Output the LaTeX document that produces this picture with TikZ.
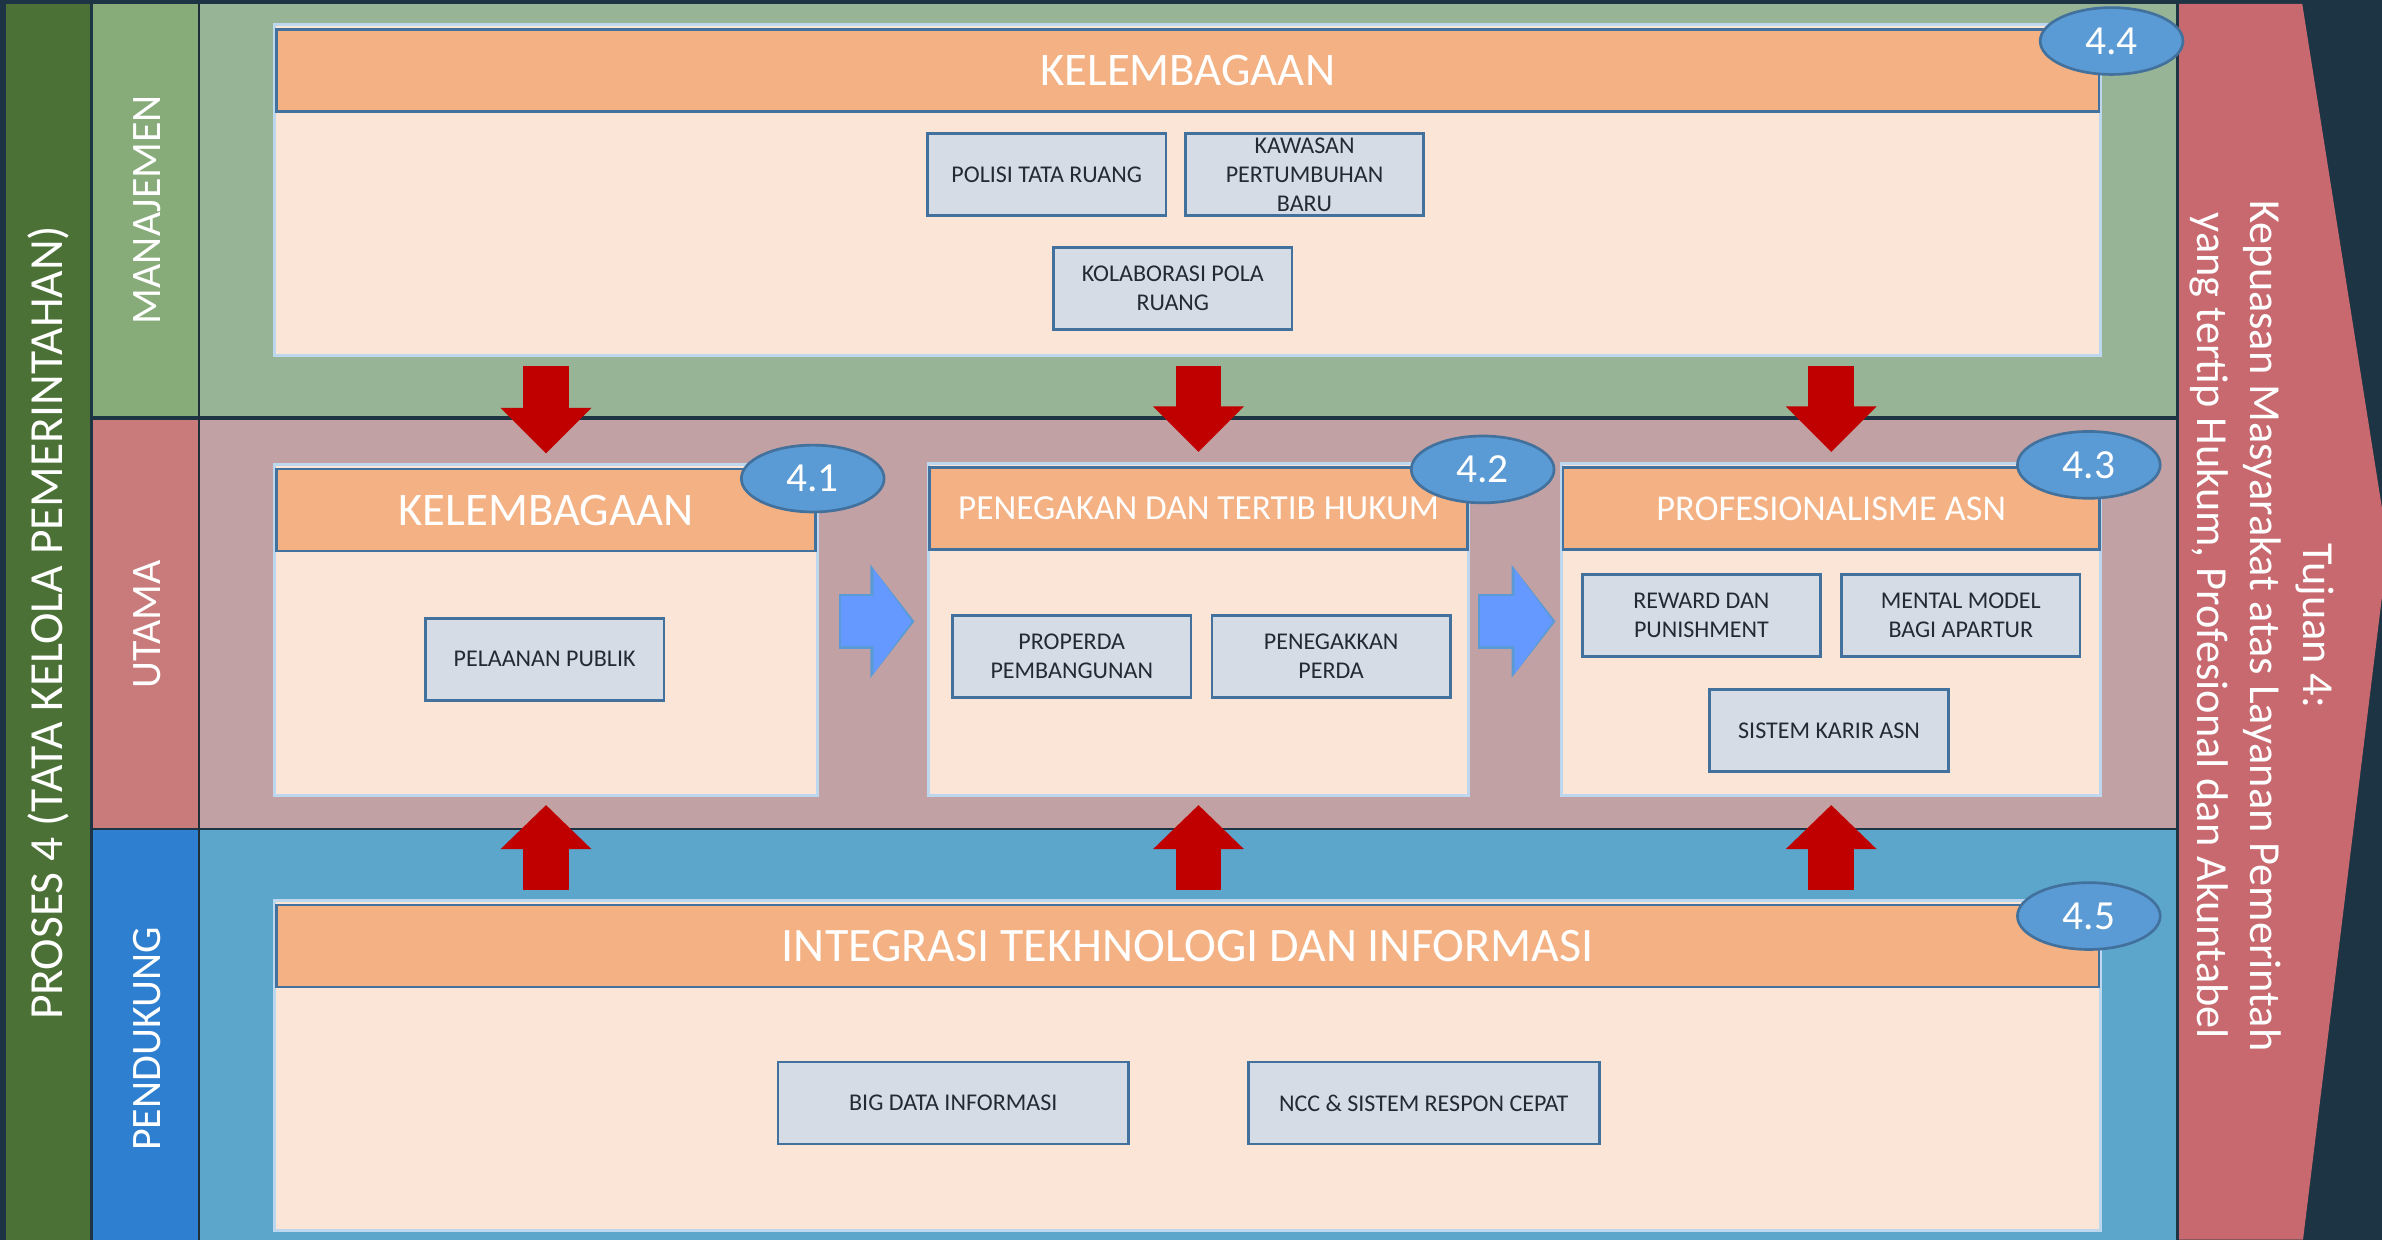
\documentclass[tikz,border=0pt]{standalone}
\usepackage{fontspec}
\setmainfont{Carlito}
\usetikzlibrary{positioning, arrows.meta, shapes.geometric}

\definecolor{bgdark}{HTML}{1D3444}
\definecolor{procol}{HTML}{4B7136}
\definecolor{manlab}{HTML}{88AB7A}
\definecolor{manbg}{HTML}{98B497}
\definecolor{utlab}{HTML}{C97A7B}
\definecolor{utbg}{HTML}{C1A1A3}
\definecolor{pdlab}{HTML}{2E7FD0}
\definecolor{pdbg}{HTML}{5BA6CA}
\definecolor{goalred}{HTML}{C8696F}
\definecolor{sepline}{HTML}{1F2F3A}
\definecolor{headfill}{HTML}{F4B183}
\definecolor{headdraw}{HTML}{41719C}
\definecolor{bodyfill}{HTML}{FBE5D6}
\definecolor{bodydraw}{HTML}{BDD7EE}
\definecolor{itemfill}{HTML}{D6DCE5}
\definecolor{itemtext}{HTML}{232A33}
\definecolor{tagfill}{HTML}{5B9BD5}
\definecolor{arrowred}{HTML}{C00000}
\definecolor{arrowblue}{HTML}{6699FF}
\definecolor{arrowrim}{HTML}{5B9BD5}

\begin{document}
\begin{tikzpicture}[x=0.02cm,y=-0.02cm,
    panel/.style={draw=bodydraw,line width=1.1pt,fill=bodyfill,inner sep=0pt,anchor=north west},
    head/.style={draw=headdraw,line width=0.9pt,fill=headfill,text=white,inner sep=0pt,minimum height=1.08cm,font=\fontsize{17.5}{21}\selectfont},
    subhead/.style={head,font=\fontsize{13.2}{16}\selectfont},
    item/.style={draw=headdraw,line width=1pt,fill=itemfill,text=itemtext,inner sep=0pt,minimum width=3.14cm,minimum height=1.08cm,align=center,font=\fontsize{9}{10.8}\selectfont},
    wideitem/.style={item,minimum width=4.62cm},
    tag/.style={ellipse,draw=headdraw,line width=1pt,fill=tagfill,text=white,inner sep=0pt,minimum width=1.88cm,minimum height=0.88cm,font=\fontsize{15.5}{16}\selectfont},
    side/.style={text=white,rotate=90,font=\fontsize{15.7}{19}\selectfont},
    downarr/.style={arrowred,line width=0.6cm,-{Triangle[width=1.16cm,length=0.6cm]},shorten <=0.12cm,shorten >=0.19cm},
    uparr/.style={arrowred,line width=0.6cm,-{Triangle[width=1.16cm,length=0.58cm]},shorten <=0.18cm,shorten >=0.1cm},
    rimarr/.style={arrowrim,line width=0.73cm,-{Triangle[width=1.46cm,length=0.58cm]}},
    rightarr/.style={arrowblue,line width=0.66cm,-{Triangle[width=1.36cm,length=0.5cm]}}]

\useasboundingbox (0,0) rectangle (1568,816);
\clip (0,0) rectangle (1568,816);

\fill[bgdark]  (0,0)       rectangle (1568,816);
\fill[procol]  (4,2.6)     rectangle (59,816);
\fill[manlab]  (61,2.6)    rectangle (131,274);
\fill[manbg]   (131,2.6)   rectangle (1432.5,274);
\fill[utlab]   (61,276.5)  rectangle (131,545);
\fill[utbg]    (131,276.5) rectangle (1432.5,545);
\fill[pdlab]   (61,546.5)  rectangle (131,816);
\fill[pdbg]    (131,546.5) rectangle (1432.5,816);
\draw[sepline,line width=0.6pt] (131,2.6) -- (131,816);
\fill[goalred] (1434.5,2.6) -- (1515.5,2.6) -- (1572,360) -- (1516,816) -- (1434.5,816) -- cycle;

\node[side,font=\fontsize{17.8}{20}\selectfont] (proses) at (32,410)  {PROSES 4 (TATA KELOLA PEMERINTAHAN)};
\node[side]                                     (man)    at (97,138)  {MANAJEMEN};
\node[side]                                     (uta)    at (97,411)  {UTAMA};
\node[side]                                     (pen)    at (97,684)  {PENDUKUNG};
\node[text=white,rotate=-90,align=center,font=\fontsize{16.6}{19.9}\selectfont] (goal) at (1489,412)
    {Tujuan 4:\\Kepuasan Masyarakat atas Layanan Pemerintah\\yang tertip Hukum, Profesional dan Akuntabel};

\node[panel,minimum width=24.04cm,minimum height=4.36cm] (b44) at (180,15)  {};
\node[head,minimum width=24cm]                          (h44) [below=0.07cm of b44.north] {KELEMBAGAAN};
\node[panel,minimum width=7.14cm,minimum height=4.36cm]  (b41) at (180,305) {};
\node[head,minimum width=7.1cm]                          (h41) [below=0.06cm of b41.north] {KELEMBAGAAN};
\node[panel,minimum width=7.12cm,minimum height=4.38cm]  (b42) at (610,304) {};
\node[subhead,minimum width=7.08cm]                      (h42) [below=0.06cm of b42.north] {PENEGAKAN DAN TERTIB HUKUM};
\node[panel,minimum width=7.1cm,minimum height=4.38cm]   (b43) at (1027,304) {};
\node[subhead,minimum width=7.06cm,font=\fontsize{13.6}{16}\selectfont] (h43) [below=0.06cm of b43.north] {PROFESIONALISME ASN};
\node[panel,minimum width=24.04cm,minimum height=4.34cm] (b45) at (180,592) {};
\node[head,minimum width=24cm,font=\fontsize{18}{21}\selectfont] (h45) [below=0.06cm of b45.north] {INTEGRASI TEKHNOLOGI DAN INFORMASI};

\node[item]     (polisi)     at (689,115)                      {POLISI TATA RUANG};
\node[item]     (kawasan)    [right=0.22cm of polisi]          {KAWASAN\\PERTUMBUHAN\\BARU};
\node[item]     (kolaborasi) at (772,190)                      {KOLABORASI POLA\\RUANG};
\node[item]     (pelayanan)  at (358.5,434)                    {PELAANAN PUBLIK};
\node[item]     (properda)   at (705.5,432)                    {PROPERDA\\PEMBANGUNAN};
\node[item]     (perda)      [right=0.24cm of properda]        {PENEGAKKAN\\PERDA};
\node[item]     (reward)     at (1120,405)                     {REWARD DAN\\PUNISHMENT};
\node[item]     (mental)     [right=0.24cm of reward]          {MENTAL MODEL\\BAGI APARTUR};
\node[item]     (karir)      at (1204,481)                     {SISTEM KARIR ASN};
\node[wideitem] (bigdata)    at (627.5,726)                    {BIG DATA INFORMASI};
\node[wideitem] (ncc)        [right=1.54cm of bigdata]         {NCC \& SISTEM RESPON CEPAT};

\node[tag] (t44) at (1390,27)  {4.4};
\node[tag] (t41) at (535,315)  {4.1};
\node[tag] (t42) at (976,309)  {4.2};
\node[tag] (t43) at (1375,306) {4.3};
\node[tag] (t45) at (1375,603) {4.5};

\coordinate (bluey) at (0,409);

\path[downarr] (b44.south -| h41.north) edge (h41.north);
\path[downarr] (b44.south -| h42.north) edge (h42.north);
\path[downarr] (b44.south -| h43.north) edge (h43.north);
\path[uparr]   (h45.north -| b41.south) edge (b41.south);
\path[uparr]   (h45.north -| b42.south) edge (b42.south);
\path[uparr]   (h45.north -| b43.south) edge (b43.south);
\path[rimarr,shorten <=0.27cm,shorten >=0.16cm]   (b41.east |- bluey) edge (b42.west |- bluey);
\path[rightarr,shorten <=0.30cm,shorten >=0.20cm] (b41.east |- bluey) edge (b42.west |- bluey);
\path[rimarr,shorten <=0.10cm,shorten >=0.06cm]   (b42.east |- bluey) edge (b43.west |- bluey);
\path[rightarr,shorten <=0.13cm,shorten >=0.10cm] (b42.east |- bluey) edge (b43.west |- bluey);
\end{tikzpicture}
\end{document}
